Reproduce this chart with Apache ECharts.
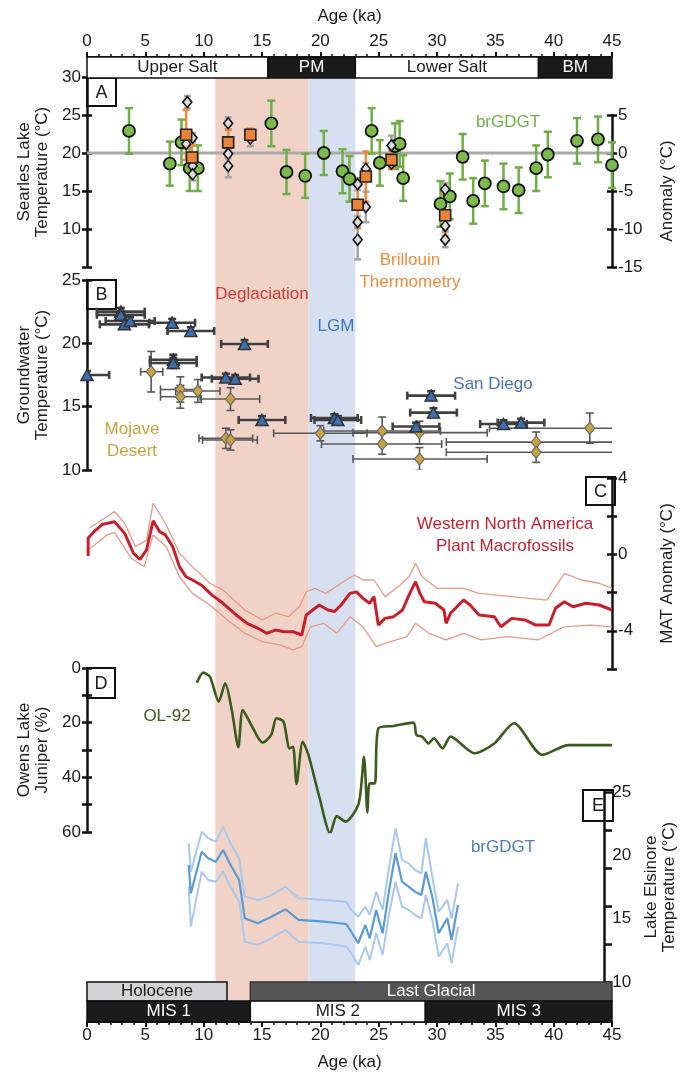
<!DOCTYPE html>
<html><head><meta charset="utf-8">
<script src="https://cdn.jsdelivr.net/npm/echarts@6/dist/echarts.min.js"></script>
<style>html,body{margin:0;padding:0;background:#fff}#c{width:686px;height:1082px}</style>
</head><body><div id="c"></div>
<script>
// ================= DATA =================
const AGE_MIN = 0, AGE_MAX = 45;
// shaded periods
const bandNames = ['Deglaciation', 'LGM'];
const bandStart = [11, 19];
const bandEnd = [19, 23];
// Searles Lake stratigraphy (top)
const stratNames = ['Upper Salt', 'PM', 'Lower Salt', 'BM'];
const stratStart = [0, 15.5, 23, 38.7];
const stratEnd = [15.5, 23, 38.7, 45];
const stratDark = [0, 1, 0, 1];
// Epochs and MIS (bottom)
const epochNames = ['Holocene', 'Last Glacial'];
const epochStart = [0, 14];
const epochEnd = [12, 45];
const misNames = ['MIS 1', 'MIS 2', 'MIS 3'];
const misStart = [0, 14, 29];
const misEnd = [14, 29, 45];
const misDark = [1, 0, 1];

// Panel A: Searles Lake temperature
const searlesMeanTemp = 20;
const brgdgtAge  = [3.6, 7.1, 8.1, 8.8, 9.5, 15.8, 17.1, 18.7, 20.3, 21.9, 22.5, 24.4, 25.1, 26.4, 26.8, 27.1, 30.3, 31.1, 32.2, 33.1, 34.1, 35.7, 37.0, 38.5, 39.5, 42.0, 43.8, 45.0];
const brgdgtTemp = [22.9, 18.6, 21.4, 18.0, 18.0, 23.9, 17.5, 17.0, 20.0, 17.6, 16.6, 22.9, 18.7, 20.9, 21.2, 16.7, 13.3, 14.3, 19.5, 13.7, 16.0, 15.6, 15.1, 18.0, 19.8, 21.6, 21.8, 18.4];
const brgdgtErr  = [3.0, 2.9, 3.0, 3.0, 3.0, 3.0, 2.9, 2.9, 2.9, 2.9, 3.0, 3.0, 3.0, 3.0, 3.0, 3.0, 3.0, 3.0, 3.0, 3.0, 3.0, 3.0, 3.0, 3.0, 3.0, 3.0, 3.0, 3.0];
const brillAge  = [8.5, 9.0, 12.1, 14.0, 23.2, 23.9, 26.1, 30.7];
const brillTemp = [22.4, 19.4, 21.4, 22.4, 13.2, 16.9, 19.1, 11.8];
const brillErr  = [3.3, 1.6, 1.7, 0.8, 3.0, 3.3, 1.2, 2.7];
const diaAge  = [8.6, 8.5, 9.05, 9.05, 9.05, 12.1, 12.1, 12.1, 14.0, 23.2, 23.2, 23.2, 23.9, 23.9, 26.1, 26.1, 30.7, 30.7, 30.7];
const diaTemp = [26.7, 21.2, 22.0, 18.3, 17.2, 23.9, 19.9, 18.3, 21.9, 15.9, 10.9, 8.6, 17.9, 12.9, 21.0, 18.6, 15.2, 10.4, 8.6];
const diaErr  = [0.8, 0.6, 0.6, 0.6, 0.8, 0.8, 0.6, 1.5, 1.0, 0.8, 0.8, 2.6, 0.8, 2.0, 1.3, 0.6, 0.8, 0.6, 1.0];

// Panel B: groundwater temperature
const sdAge     = [0.0, 2.9, 2.9, 3.2, 3.7, 7.3, 8.9, 13.5, 7.4, 7.4, 11.9, 12.7, 15.0, 21.2, 21.5, 29.5, 29.7, 28.2, 35.7, 37.2];
const sdTemp    = [17.5, 22.5, 22.25, 21.5, 21.76, 21.63, 20.97, 19.95, 18.7, 18.45, 17.3, 17.2, 13.95, 14.1, 13.95, 15.87, 14.53, 13.43, 13.63, 13.74];
const sdAgeErr  = [1.9, 2.05, 2.05, 2.1, 2.1, 1.96, 2.0, 2.0, 2.0, 2.0, 2.07, 2.0, 2.0, 2.0, 2.0, 2.05, 2.0, 2.0, 2.0, 2.0];
const sdTempErr = [0.3, 0.3, 0.3, 0.3, 0.3, 0.3, 0.3, 0.3, 0.4, 0.4, 0.3, 0.3, 0.3, 0.3, 0.3, 0.35, 0.35, 0.3, 0.3, 0.3];
const mojAge     = [5.5, 8.0, 8.0, 9.5, 12.3, 11.9, 12.3, 20.0, 25.3, 25.3, 28.5, 28.5, 38.5, 38.5, 43.1];
const mojTemp    = [17.76, 16.36, 15.78, 16.24, 15.6, 12.5, 12.37, 12.9, 13.08, 12.05, 12.95, 10.87, 12.2, 11.4, 13.3];
const mojAgeLo   = [4.6, 6.3, 6.3, 7.6, 9.8, 9.6, 9.9, 16.0, 20.3, 20.1, 22.8, 22.8, 30.8, 30.8, 34.5];
const mojAgeHi   = [6.5, 9.7, 9.7, 11.4, 14.8, 14.2, 14.6, 24.0, 30.3, 30.4, 34.3, 34.3, 46.2, 46.2, 51.6];
const mojTempErr = [1.6, 1.0, 0.9, 0.9, 0.9, 0.8, 0.8, 0.6, 1.1, 0.8, 0.9, 0.9, 0.8, 0.8, 1.2];

// Panel C: plant macrofossil MAT anomaly
const macroAge = [0.1, 0.1, 0.6, 1.35, 2.37, 3.23, 3.98, 4.54, 5.1, 5.67, 6.23, 6.72, 7.35, 7.92, 8.48, 9.04, 9.79, 10.72, 11.66, 12.79, 13.72, 14.66, 15.41, 16.15, 16.9, 17.66, 18.41, 18.79, 19.35, 19.91, 20.66, 21.22, 21.78, 22.54, 23.1, 23.66, 24.22, 24.6, 24.97, 25.54, 26.29, 27.05, 27.6, 28.16, 28.54, 28.91, 29.85, 30.6, 30.78, 31.16, 32.28, 32.84, 33.6, 34.91, 35.48, 36.41, 37.53, 38.47, 39.6, 40.16, 40.91, 41.66, 42.78, 43.91, 45.0];
const macroMAT = [-0.08, 0.86, 1.19, 1.58, 1.71, 1.1, 0.06, -0.26, 0.23, 1.76, 1.19, 1.02, 0.4, -0.64, -1.17, -1.34, -1.6, -2.13, -2.56, -3.17, -3.61, -3.87, -4.13, -3.96, -4.05, -4.05, -4.22, -3.17, -2.91, -2.65, -2.91, -2.99, -2.65, -2.04, -1.96, -2.3, -2.56, -2.21, -3.7, -3.35, -3.26, -2.91, -2.13, -1.43, -2.04, -2.48, -2.56, -2.91, -3.61, -3.08, -2.39, -2.65, -3.17, -3.26, -3.79, -3.35, -3.43, -3.7, -3.7, -2.82, -2.48, -2.74, -2.56, -2.65, -2.91];
const macroUpAge = [0.2, 1.7, 2.37, 3.23, 4.16, 5.1, 5.67, 6.8, 7.92, 9.04, 10.53, 11.66, 13.53, 15.03, 16.15, 17.28, 18.22, 18.79, 19.54, 20.47, 21.78, 22.91, 23.66, 24.6, 25.54, 26.67, 27.6, 28.16, 28.73, 30.04, 32.28, 33.6, 36.41, 39.41, 40.91, 42.4, 43.91, 45.0];
const macroUp    = [1.38, 1.97, 2.24, 1.63, 0.4, 0.75, 2.68, 1.54, 0.06, -0.64, -1.51, -1.86, -2.91, -3.43, -3.08, -3.26, -2.74, -1.96, -1.78, -2.04, -1.51, -1.08, -1.34, -1.34, -2.21, -1.69, -1.17, -0.47, -1.17, -1.78, -1.78, -2.04, -2.21, -2.39, -0.99, -1.34, -1.51, -1.78];
const macroLoAge = [0.1, 1.7, 2.37, 3.79, 4.91, 5.67, 6.8, 7.92, 9.04, 10.53, 12.04, 13.53, 15.03, 16.53, 17.66, 18.41, 19.16, 20.29, 21.41, 22.54, 23.66, 24.79, 25.54, 27.42, 28.16, 29.29, 30.78, 32.28, 33.79, 36.04, 38.66, 40.91, 43.16, 45.0];
const macroLo    = [0.23, 1.02, 1.14, -0.2, -0.64, 1.02, 0.4, -1.17, -2.04, -2.65, -3.43, -4.13, -4.57, -4.74, -5.0, -4.83, -3.79, -3.61, -4.13, -3.26, -3.79, -4.83, -4.66, -4.31, -3.61, -4.13, -4.48, -4.13, -4.48, -4.31, -4.48, -3.79, -3.7, -3.79];

// Panel D: Owens Lake juniper (OL-92)
const juniperAge = [9.41, 9.97, 10.54, 11.29, 11.85, 12.41, 12.97, 13.35, 14.09, 15.04, 15.79, 16.24, 16.84, 17.36, 17.66, 17.96, 18.49, 18.98, 19.91, 20.85, 21.41, 22.16, 23.29, 23.74, 24.04, 24.22, 24.67, 24.97, 26.28, 27.98, 28.24, 28.72, 29.28, 29.73, 30.48, 31.16, 33.22, 34.91, 36.6, 39.03, 41.28, 45.0];
const juniperPct = [5.4, 1.7, 3.2, 12.3, 5.6, 15.4, 29.0, 15.4, 20.9, 27.3, 24.5, 18.4, 19.6, 29.4, 28.8, 42.4, 27.0, 31.8, 47.1, 60.5, 54.2, 56.2, 49.5, 32.5, 52.9, 42.2, 42.2, 22.1, 21.2, 20.0, 24.5, 25.1, 27.6, 25.7, 29.4, 25.1, 31.2, 27.6, 20.2, 31.8, 28.2, 28.2];

// Panel E: Lake Elsinore brGDGT temperature
const elsAge = [8.85, 9.04, 9.98, 10.54, 11.21, 11.85, 12.41, 13.24, 13.73, 14.85, 15.79, 17.28, 18.41, 20.66, 22.54, 22.99, 23.59, 24.22, 24.6, 25.16, 25.72, 26.29, 26.85, 27.41, 27.98, 28.54, 29.1, 29.48, 30.04, 30.6, 31.35, 31.72, 32.28];
const elsTemp = [19.24, 17.0, 20.29, 19.77, 19.5, 20.42, 19.37, 18.05, 15.03, 14.64, 15.03, 15.74, 14.9, 14.76, 14.58, 13.97, 13.06, 14.5, 13.45, 15.69, 13.85, 17.27, 20.16, 17.92, 17.53, 17.13, 16.87, 18.71, 16.74, 13.85, 15.03, 13.32, 16.08];
const elsUpper = [20.95, 18.71, 21.87, 21.35, 21.08, 22.26, 21.08, 19.77, 16.74, 16.48, 16.74, 17.53, 16.61, 16.48, 16.34, 15.69, 15.16, 15.95, 15.29, 17.13, 15.69, 19.1, 22.13, 19.63, 19.37, 18.84, 18.58, 21.35, 18.32, 15.55, 16.48, 15.03, 17.79];
const elsLower = [17.53, 14.37, 18.71, 18.05, 17.92, 18.71, 17.66, 16.34, 13.17, 12.92, 13.32, 14.11, 13.17, 13.06, 12.79, 12.27, 11.34, 12.79, 11.74, 13.85, 12.14, 15.42, 17.92, 15.95, 15.69, 15.29, 15.03, 16.87, 14.9, 12.0, 13.06, 11.47, 14.37];

// ================= LAYOUT / STYLE =================
const FONT = '"Liberation Sans", Arial, sans-serif';
const TXT = '#1a1a1a';
const AX = '#111';
const L = 87, R = 74;

const zip = (...arrs) => arrs[0].map((_, i) => arrs.map(a => a[i]));

const grids = [];
function addGrid(top, height) { grids.push({left: L, right: R, top: top, height: height}); return grids.length - 1; }
const xAxes = [], yAxes = [];
function hx(gi) { xAxes.push({type: 'value', gridIndex: gi, min: AGE_MIN, max: AGE_MAX, show: false, splitLine: {show: false}}); return xAxes.length - 1; }
function hy(gi, min, max, inverse) { yAxes.push({type: 'value', gridIndex: gi, min: min, max: max, inverse: !!inverse, show: false, splitLine: {show: false}}); return yAxes.length - 1; }
function vy(gi, o) {
  const ax = Object.assign({
    type: 'value', gridIndex: gi, splitLine: {show: false},
    axisLine: {show: true, onZero: false, lineStyle: {color: AX, width: 2.5}},
    axisTick: {show: true, length: 5, lineStyle: {color: AX, width: 2.5}},
    axisLabel: {color: TXT, fontSize: 17, fontFamily: FONT, margin: 6},
    nameLocation: 'middle', nameRotate: 90,
    nameTextStyle: {color: TXT, fontSize: 17, fontFamily: FONT, lineHeight: 18}
  }, o);
  yAxes.push(ax); return yAxes.length - 1;
}
function dupTicks(gi, o) {
  const ax = Object.assign({
    type: 'value', gridIndex: gi, splitLine: {show: false},
    axisLine: {show: false, onZero: false}, axisLabel: {show: false},
    axisTick: {show: true, inside: true, length: 5, lineStyle: {color: AX, width: 2.5}}
  }, o);
  yAxes.push(ax); return yAxes.length - 1;
}
function ageAxis(gi, pos) {
  xAxes.push({
    type: 'value', gridIndex: gi, position: pos, min: AGE_MIN, max: AGE_MAX, interval: 5,
    splitLine: {show: false},
    axisLine: {show: true, onZero: false, lineStyle: {color: AX, width: 2}},
    axisTick: {show: true, length: 5, lineStyle: {color: AX, width: 2}},
    minorTick: {show: true, splitNumber: 5, length: 3, lineStyle: {color: AX, width: 1.5}},
    axisLabel: {color: TXT, fontSize: 17, fontFamily: FONT, margin: pos === 'top' ? 7 : 5},
    name: 'Age (ka)', nameLocation: 'middle', nameGap: pos === 'top' ? 32 : 32,
    nameTextStyle: {color: TXT, fontSize: 17, fontFamily: FONT}
  });
  return xAxes.length - 1;
}

// grids
const gStrat = addGrid(57, 21);
const gBg = addGrid(78, 923);
const gA = addGrid(77, 190);
const gAd = addGrid(77, 190);
const gAr = addGrid(115, 152);
const gArd = addGrid(115, 152);
const gB = addGrid(280, 190);
const gBd = addGrid(280, 190);
const gC = addGrid(478, 191);
const gCd = addGrid(478, 191);
const gD = addGrid(668, 164);
const gDd = addGrid(668, 164);
const gE = addGrid(792, 190);
const gEd = addGrid(792, 190);
const gHol = addGrid(982, 19);
const gMis = addGrid(1001, 21);

// axes
const xStrat = ageAxis(gStrat, 'top'); const yStrat = hy(gStrat, 0, 1);
const xBg = hx(gBg); const yBg = hy(gBg, 0, 1);
const xA = hx(gA);
const yA = vy(gA, {position: 'left', min: 5, max: 30, interval: 5,
  axisLabel: {color: TXT, fontSize: 17, fontFamily: FONT, margin: 6, formatter: v => v === 5 ? '' : v},
  name: 'Searles Lake\nTemperature (°C)', nameGap: 32});
const xAd = hx(gAd); const yAd = dupTicks(gAd, {position: 'left', min: 5, max: 30, interval: 5});
const xAr = hx(gAr);
const yAr = vy(gAr, {position: 'right', min: -15, max: 5, interval: 5, name: 'Anomaly (°C)', nameGap: 46});
const xArd = hx(gArd); const yArd = dupTicks(gArd, {position: 'right', min: -15, max: 5, interval: 5});
const xB = hx(gB);
const yB = vy(gB, {position: 'left', min: 10, max: 25, interval: 5, name: 'Groundwater\nTemperature (°C)', nameGap: 32});
const xBd = hx(gBd); const yBd = dupTicks(gBd, {position: 'left', min: 10, max: 25, interval: 5});
const xC = hx(gC);
const yC = vy(gC, {position: 'right', min: -6, max: 4, interval: 2,
  axisLabel: {color: TXT, fontSize: 17, fontFamily: FONT, margin: 6, formatter: v => (v % 4 === 0) ? v : ''},
  name: 'MAT Anomaly (°C)', nameGap: 46});
const xCd = hx(gCd); const yCd = dupTicks(gCd, {position: 'right', min: -6, max: 4, interval: 2});
const xD = hx(gD);
const yD = vy(gD, {position: 'left', min: 0, max: 60, interval: 10, inverse: true,
  axisLabel: {color: TXT, fontSize: 17, fontFamily: FONT, margin: 6, formatter: v => (v % 20 === 0) ? v : ''},
  name: 'Owens Lake\nJuniper (%)', nameGap: 32});
const xDd = hx(gDd); const yDd = dupTicks(gDd, {position: 'left', min: 0, max: 60, interval: 10, inverse: true});
const xE = hx(gE);
const yE = vy(gE, {position: 'right', min: 10, max: 25,
  axisTick: {show: true, length: 5, customValues: [10, 13, 16, 19, 22, 25], lineStyle: {color: AX, width: 2.5}},
  axisLabel: {color: TXT, fontSize: 17, fontFamily: FONT, margin: 8, customValues: [10, 15, 20, 25]},
  name: 'Lake Elsinore\nTemperature (°C)', nameGap: 37});
const xEd = hx(gEd); const yEd = dupTicks(gEd, {position: 'right', min: 10, max: 25,
  axisTick: {show: true, inside: true, length: 5, customValues: [10, 13, 16, 19, 22, 25], lineStyle: {color: AX, width: 2.5}}});
const xHol = hx(gHol); const yHol = hy(gHol, 0, 1);
const xMis = ageAxis(gMis, 'bottom'); const yMis = hy(gMis, 0, 1);

// ================= RENDERERS =================
function boxRender(names, fills, textFills, strokes) {
  return function (params, api) {
    const i = params.dataIndex;
    const a = api.coord([api.value(0), 0]);
    const b = api.coord([api.value(1), 0]);
    const cs = params.coordSys;
    return {
      type: 'rect',
      shape: {x: a[0], y: cs.y, width: b[0] - a[0], height: cs.height},
      style: {fill: fills[i], stroke: strokes[i], lineWidth: 1.5},
      textContent: {style: {text: names[i], fill: textFills[i], fontSize: 17, fontFamily: FONT}},
      textConfig: {position: 'inside'}
    };
  };
}
function bandRender(colors) {
  return function (params, api) {
    const a = api.coord([api.value(0), 0]);
    const b = api.coord([api.value(1), 0]);
    const cs = params.coordSys;
    return {type: 'rect', shape: {x: a[0], y: cs.y, width: b[0] - a[0], height: cs.height}, style: {fill: colors[params.dataIndex]}};
  };
}
function yErr(color, width, cap) {
  return function (params, api) {
    const x = api.value(0), y = api.value(1), e = api.value(2);
    const p1 = api.coord([x, y - e]), p2 = api.coord([x, y + e]);
    const st = {stroke: color, lineWidth: width};
    return {type: 'group', children: [
      {type: 'line', shape: {x1: p1[0], y1: p1[1], x2: p2[0], y2: p2[1]}, style: st},
      {type: 'line', shape: {x1: p1[0] - cap, y1: p1[1], x2: p1[0] + cap, y2: p1[1]}, style: st},
      {type: 'line', shape: {x1: p2[0] - cap, y1: p2[1], x2: p2[0] + cap, y2: p2[1]}, style: st}
    ]};
  };
}
function xyErr(color, width, cap) {
  return function (params, api) {
    const x = api.value(0), y = api.value(1), xl = api.value(2), xh = api.value(3), e = api.value(4);
    const l = api.coord([xl, y]), r = api.coord([xh, y]);
    const t = api.coord([x, y + e]), bo = api.coord([x, y - e]);
    const st = {stroke: color, lineWidth: width};
    return {type: 'group', children: [
      {type: 'line', shape: {x1: l[0], y1: l[1], x2: r[0], y2: r[1]}, style: st},
      {type: 'line', shape: {x1: l[0], y1: l[1] - cap, x2: l[0], y2: l[1] + cap}, style: st},
      {type: 'line', shape: {x1: r[0], y1: r[1] - cap, x2: r[0], y2: r[1] + cap}, style: st},
      {type: 'line', shape: {x1: t[0], y1: t[1], x2: bo[0], y2: bo[1]}, style: st},
      {type: 'line', shape: {x1: t[0] - cap, y1: t[1], x2: t[0] + cap, y2: t[1]}, style: st},
      {type: 'line', shape: {x1: bo[0] - cap, y1: bo[1], x2: bo[0] + cap, y2: bo[1]}, style: st}
    ]};
  };
}

// ================= SERIES =================
const series = [];
// background bands
series.push({type: 'custom', xAxisIndex: xBg, yAxisIndex: yBg, z: 0, silent: true,
  renderItem: bandRender(['#f1d2c6', '#d7e0f1']), data: zip(bandStart, bandEnd)});
// stratigraphy top
series.push({type: 'custom', xAxisIndex: xStrat, yAxisIndex: yStrat, z: 5, clip: false,
  renderItem: boxRender(stratNames, stratDark.map(d => d ? '#1b1b1b' : '#ffffff'), stratDark.map(d => d ? '#ffffff' : TXT), stratNames.map(() => '#111')),
  data: zip(stratStart, stratEnd)});
// epochs
series.push({type: 'custom', xAxisIndex: xHol, yAxisIndex: yHol, z: 5, clip: false,
  renderItem: boxRender(epochNames, ['#d3d3d5', '#565656'], [TXT, '#ffffff'], ['#111', '#333']),
  data: zip(epochStart, epochEnd)});
// MIS
series.push({type: 'custom', xAxisIndex: xMis, yAxisIndex: yMis, z: 5, clip: false,
  renderItem: boxRender(misNames, misDark.map(d => d ? '#1b1b1b' : '#ffffff'), misDark.map(d => d ? '#ffffff' : TXT), misNames.map(() => '#111')),
  data: zip(misStart, misEnd)});

// Panel A
series.push({type: 'line', xAxisIndex: xA, yAxisIndex: yA, z: 2, symbol: 'none', silent: true,
  lineStyle: {color: '#a9a9a9', width: 3}, data: [[AGE_MIN, searlesMeanTemp], [AGE_MAX, searlesMeanTemp]]});
series.push({type: 'custom', xAxisIndex: xA, yAxisIndex: yA, z: 3, renderItem: yErr('#6fae45', 2.5, 4), data: zip(brgdgtAge, brgdgtTemp, brgdgtErr)});
series.push({type: 'custom', xAxisIndex: xA, yAxisIndex: yA, z: 3, renderItem: yErr('#a3a3a3', 2.5, 3.5), data: zip(diaAge, diaTemp, diaErr)});
series.push({type: 'custom', xAxisIndex: xA, yAxisIndex: yA, z: 3, renderItem: yErr('#ef8a3c', 2.5, 3.5), data: zip(brillAge, brillTemp, brillErr)});
series.push({type: 'scatter', xAxisIndex: xA, yAxisIndex: yA, z: 4, symbol: 'circle', symbolSize: 12,
  itemStyle: {color: '#7cba4b', borderColor: '#111', borderWidth: 1.8, opacity: 1}, data: zip(brgdgtAge, brgdgtTemp)});
series.push({type: 'scatter', xAxisIndex: xA, yAxisIndex: yA, z: 4, symbol: 'diamond', symbolSize: [9, 11],
  itemStyle: {color: '#dcdcdc', borderColor: '#111', borderWidth: 1.6, opacity: 1}, data: zip(diaAge, diaTemp)});
series.push({type: 'scatter', xAxisIndex: xA, yAxisIndex: yA, z: 4, symbol: 'rect', symbolSize: 11,
  itemStyle: {color: '#ec8437', borderColor: '#222', borderWidth: 1.6, opacity: 1}, data: zip(brillAge, brillTemp)});

// Panel B
series.push({type: 'custom', xAxisIndex: xB, yAxisIndex: yB, z: 3, clip: true, renderItem: xyErr('#585858', 1.6, 4),
  data: zip(mojAge, mojTemp, mojAgeLo, mojAgeHi, mojTempErr)});
series.push({type: 'custom', xAxisIndex: xB, yAxisIndex: yB, z: 3, clip: true, renderItem: xyErr('#404040', 2.6, 4),
  data: zip(sdAge, sdTemp, sdAge.map((a, i) => a - sdAgeErr[i]), sdAge.map((a, i) => a + sdAgeErr[i]), sdTempErr)});
series.push({type: 'scatter', xAxisIndex: xB, yAxisIndex: yB, z: 4, symbol: 'diamond', symbolSize: [10, 12],
  itemStyle: {color: '#c9a43e', borderColor: '#6b6b6b', borderWidth: 1.2, opacity: 1}, data: zip(mojAge, mojTemp)});
series.push({type: 'scatter', xAxisIndex: xB, yAxisIndex: yB, z: 4, symbol: 'triangle', symbolSize: [12, 11],
  itemStyle: {color: '#3d6fb3', borderColor: '#333', borderWidth: 1.5, opacity: 1}, data: zip(sdAge, sdTemp)});

// Panel C
series.push({type: 'line', xAxisIndex: xC, yAxisIndex: yC, z: 3, symbol: 'none', lineStyle: {color: '#e59a85', width: 1.3}, data: zip(macroUpAge, macroUp)});
series.push({type: 'line', xAxisIndex: xC, yAxisIndex: yC, z: 3, symbol: 'none', lineStyle: {color: '#e59a85', width: 1.3}, data: zip(macroLoAge, macroLo)});
series.push({type: 'line', xAxisIndex: xC, yAxisIndex: yC, z: 4, symbol: 'none', lineStyle: {color: '#c81f2d', width: 3}, data: zip(macroAge, macroMAT)});

// Panel D
series.push({type: 'line', xAxisIndex: xD, yAxisIndex: yD, z: 4, symbol: 'none', smooth: 0.25,
  lineStyle: {color: '#3b5c1e', width: 2.6}, data: zip(juniperAge, juniperPct)});

// Panel E
series.push({type: 'line', xAxisIndex: xE, yAxisIndex: yE, z: 3, symbol: 'none', lineStyle: {color: '#a9c8ec', width: 2}, data: zip(elsAge, elsUpper)});
series.push({type: 'line', xAxisIndex: xE, yAxisIndex: yE, z: 3, symbol: 'none', lineStyle: {color: '#a9c8ec', width: 2}, data: zip(elsAge, elsLower)});
series.push({type: 'line', xAxisIndex: xE, yAxisIndex: yE, z: 4, symbol: 'none', lineStyle: {color: '#5b9bd5', width: 2.2}, data: zip(elsAge, elsTemp)});

// ================= ANNOTATIONS =================
function panelBox(letter, x, y, w, h) {
  return {type: 'group', z: 50, children: [
    {type: 'rect', shape: {x: x, y: y, width: w, height: h}, style: {fill: '#fff', stroke: '#111', lineWidth: 2}},
    {type: 'text', style: {text: letter, x: x + w / 2, y: y + h / 2 + 1, align: 'center', verticalAlign: 'middle', fill: TXT, font: '18px ' + FONT}}
  ]};
}
function label(text, x, y, color) {
  return {type: 'text', z: 50, style: {text: text, x: x, y: y, align: 'center', verticalAlign: 'middle', fill: color, font: '17px ' + FONT, lineHeight: 22}};
}
const graphics = [
  panelBox('A', 87, 78, 29, 28),
  panelBox('B', 87, 280, 29, 29),
  panelBox('C', 586, 477, 29, 28),
  panelBox('D', 87, 668, 28, 30),
  panelBox('E', 583, 790, 30, 31),
  label('brGDGT', 508, 122, '#6fae45'),
  label('Brillouin\nThermometry', 410, 271, '#ef8a3c'),
  label(bandNames[0], 262, 294, '#d03a3b'),
  label(bandNames[1], 336, 326, '#3b78c4'),
  label('San Diego', 493, 384, '#4c73b8'),
  label('Mojave\nDesert', 132, 440, '#c9a43e'),
  label('Western North America\nPlant Macrofossils', 505, 535, '#c81f2d'),
  label('OL-92', 167, 716, '#3b5c1e'),
  label('brGDGT', 503, 847, '#4a7cc0')
];

const chart = echarts.init(document.getElementById('c'), null, {renderer: 'canvas'});
chart.setOption({
  animation: false,
  backgroundColor: '#fff',
  textStyle: {fontFamily: FONT},
  grid: grids,
  xAxis: xAxes,
  yAxis: yAxes,
  series: series,
  graphic: graphics
});
</script>
</body></html>
